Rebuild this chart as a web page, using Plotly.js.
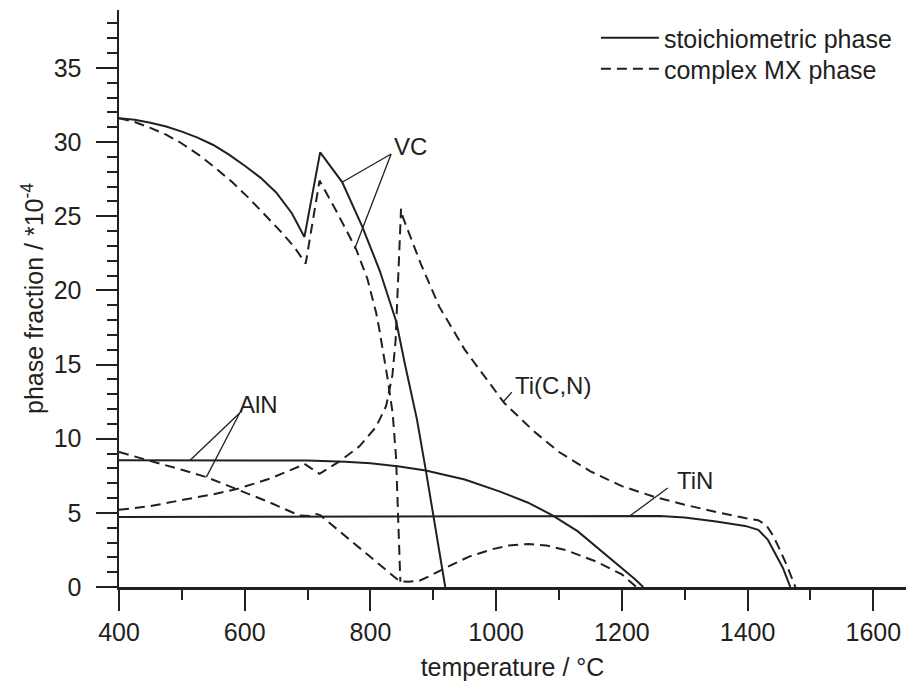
<!DOCTYPE html>
<html><head><meta charset="utf-8">
<script src="https://cdn.plot.ly/plotly-3.0.1.min.js"></script>
<style>html,body{margin:0;padding:0;background:#fff}#chart{width:906px;height:682px}</style>
</head><body><div id="chart"></div>
<script>
const ink = '#231f20';
const fontFam = '"Liberation Sans", Arial, Helvetica, sans-serif';

// ---- data (temperature °C, phase fraction *1e-4) ----
const vcStoT = [400,425,450,475,500,525,550,575,600,625,650,675,695,720,755,787,815,841,855,874,888,900,910,919];
const vcStoY = [31.6,31.5,31.3,31.05,30.7,30.3,29.8,29.15,28.4,27.6,26.6,25.2,23.6,29.3,27.3,24.3,21.3,17.9,15.0,11.3,7.9,4.75,2.4,0];

const vcCxT = [400,425,450,475,500,528,555,580,607,634,660,680,697,719,745,777,795,809,814,827.5,835.4,840.8,844.5,847.6];
const vcCxY = [31.6,31.35,30.95,30.5,29.9,29.1,28.2,27.3,26.2,25.0,23.85,22.85,21.8,27.4,25.4,22.8,20.8,18.5,17.4,14.0,11.7,8.7,4.5,0.35];

const ticnCxT = [400,450,502,550,587,640,687,695,719,751,782.5,809,825,835,840,844.5,848.7,851,865,880,909.5,950,1013,1060,1100,1150,1200,1250,1300,1350,1396,1417,1430,1440,1449,1462,1476];
const ticnCxY = [5.2,5.45,5.88,6.25,6.6,7.3,8.13,8.3,7.63,8.47,9.48,10.8,12.2,14.3,16.6,21.0,25.5,25.0,23.4,21.8,18.9,16.0,12.4,10.5,9.1,7.8,6.8,6.1,5.55,5.05,4.65,4.5,4.15,3.5,2.72,1.5,0];

const tinStoT = [400,800,1000,1200,1260,1300,1350,1396,1417,1432,1444,1456,1468];
const tinStoY = [4.72,4.75,4.77,4.8,4.78,4.68,4.42,4.12,3.85,3.2,2.28,1.3,0];

const alnStoT = [400,600,700,760,800,846,888,950,1005,1050,1089,1130,1163,1200,1220,1234];
const alnStoY = [8.55,8.55,8.53,8.45,8.35,8.13,7.86,7.25,6.45,5.7,4.85,3.75,2.6,1.25,0.55,0];

const alnCxT = [400,454,500,539,587,640,687,705,714,720,793,846,860,878,895,915,957,994,1020,1052,1080,1110,1160,1200,1223];
const alnCxY = [9.1,8.47,7.9,7.41,6.6,5.7,4.82,4.78,4.92,4.85,2.27,0.4,0.35,0.42,0.75,1.2,2.05,2.55,2.8,2.9,2.8,2.5,1.7,0.85,0];

// ---- labels and leader lines ----
const labelText = ['VC', 'AlN', 'Ti(C,N)', 'TiN'];
const labelT = [863, 622, 1090, 1317];
const labelY = [29.7, 12.3, 13.6, 7.21];
const leaderT = [[832.9, 755.6], [832.9, 775], [592, 512.7], [592, 539], [1025, 1011], [1273, 1213]];
const leaderY = [[29.19, 27.3], [29.19, 22.8], [11.73, 8.53], [11.73, 7.41], [13.14, 12.47], [6.67, 4.8]];

const legendNames = ['stoichiometric phase', 'complex MX phase'];
const legendRefs = ['legend', 'legend2'];

const traces = [];
function curve(x, y, dashed, legendIdx) {
  const t = {
    type: 'scatter', mode: 'lines', x: x, y: y,
    line: {color: ink, width: 2, dash: dashed ? '10px,6px' : 'solid'},
    showlegend: legendIdx >= 0, hoverinfo: 'skip'
  };
  if (legendIdx >= 0) { t.name = legendNames[legendIdx]; t.legend = legendRefs[legendIdx]; }
  traces.push(t);
}
curve(vcStoT, vcStoY, false, 0);
curve(vcCxT, vcCxY, true, 1);
curve(tinStoT, tinStoY, false, -1);
curve(ticnCxT, ticnCxY, true, -1);
curve(alnStoT, alnStoY, false, -1);
curve(alnCxT, alnCxY, true, -1);
leaderT.forEach((lt, i) => {
  traces.push({type: 'scatter', mode: 'lines', x: lt, y: leaderY[i],
    line: {color: ink, width: 1.3}, showlegend: false, hoverinfo: 'skip'});
});

const annotations = labelText.map((t, i) => ({
  x: labelT[i], y: labelY[i], xref: 'x', yref: 'y', text: t, showarrow: false,
  font: {family: fontFam, size: 24, color: ink}, xanchor: 'center', yanchor: 'middle'
}));

const axisCommon = {
  ticks: 'outside', ticklen: 21, tickwidth: 2, tickcolor: ink,
  showline: true, linewidth: 2.5, linecolor: ink, showgrid: false, zeroline: false,
  tickfont: {family: fontFam, size: 25, color: ink}
};

const legendCommon = {xanchor: 'left', yanchor: 'top', bgcolor: 'rgba(0,0,0,0)',
  font: {family: fontFam, size: 25, color: ink}, itemwidth: 58};

const layout = {
  width: 906, height: 682,
  margin: {l: 119, r: 0, t: 10, b: 95},
  paper_bgcolor: '#fff', plot_bgcolor: '#fff',
  font: {family: fontFam, color: ink},
  showlegend: true,
  legend: Object.assign({}, legendCommon, {x: 0.606, y: 0.9913}),
  legend2: Object.assign({}, legendCommon, {x: 0.606, y: 0.9376}),
  xaxis: Object.assign({}, axisCommon, {
    range: [400, 1652], tickmode: 'linear', tick0: 400, dtick: 200,
    minor: {tick0: 400, dtick: 100, ticks: 'outside', ticklen: 10, tickwidth: 2, tickcolor: ink, showgrid: false},
    title: {text: 'temperature / °C', font: {family: fontFam, size: 25, color: ink}, standoff: 14}
  }),
  yaxis: Object.assign({}, axisCommon, {
    range: [0, 38.9], tickmode: 'linear', tick0: 0, dtick: 5, ticklabelstandoff: 9,
    minor: {tick0: 0, dtick: 1, ticks: 'outside', ticklen: 10, tickwidth: 2, tickcolor: ink, showgrid: false},
    title: {text: 'phase fraction / *10<sup>-4</sup>', font: {family: fontFam, size: 25, color: ink}, standoff: 3}
  }),
  annotations: annotations
};

Plotly.newPlot('chart', traces, layout, {staticPlot: true, displayModeBar: false});
</script>
</body></html>
